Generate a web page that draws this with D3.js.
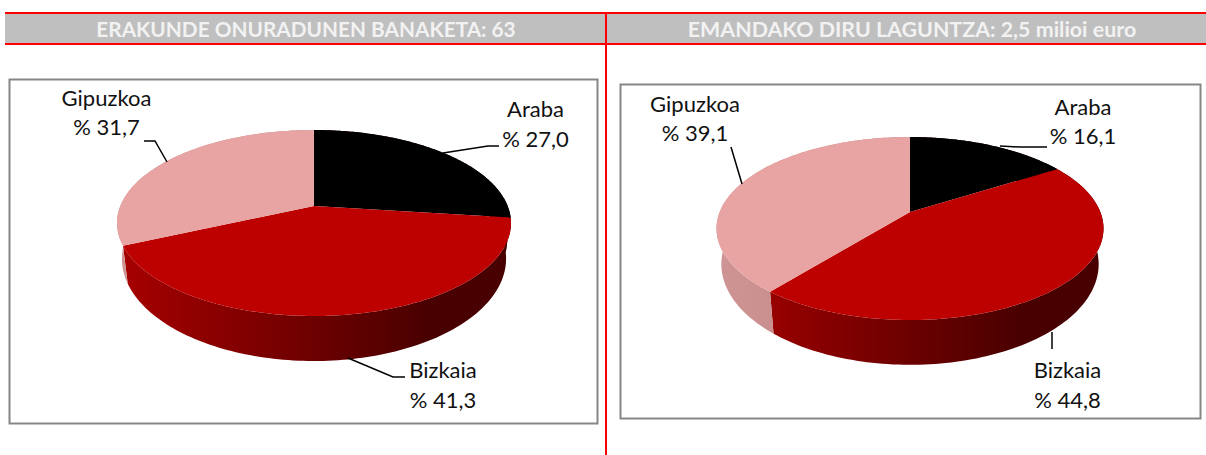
<!DOCTYPE html>
<html><head><meta charset="utf-8">
<script src="https://cdn.jsdelivr.net/npm/d3@7/dist/d3.min.js"></script>
<style>html,body{margin:0;padding:0;background:#fff}svg{display:block}</style>
</head><body><svg id="c" width="1206" height="455"></svg>
<script>
const categories = ["Araba", "Bizkaia", "Gipuzkoa"];
const valuesLeft = [27.0, 41.3, 31.7];
const valuesRight = [16.1, 44.8, 39.1];
const labelsLeft = ["% 27,0", "% 41,3", "% 31,7"];
const labelsRight = ["% 16,1", "% 44,8", "% 39,1"];
const titleLeft = "ERAKUNDE ONURADUNEN BANAKETA: 63";
const titleRight = "EMANDAKO DIRU LAGUNTZA: 2,5 milioi euro";

const topColors = ["#000000", "#bd0000", "#e8a3a3"];
const wallStops = [
  ["#3a0000", "#3a0000"],
  ["#a80000", "#480000"],
  ["#cf9595", "#b07070"]
];

const panels = [
  { values: valuesLeft, labels: labelsLeft, title: titleLeft, titleX: 306, titleSize: 20.8,
    frame: [9.5, 79.5, 588, 344], cx: 314, cy: 206, up: 76, down: 110, rx: 197,
    text: [[535.5, 117, 147], [443, 378, 408], [106.5, 106, 135]],
    leaders: [[[443,153],[488,146],[499,146]], [[348,358],[393,377],[405,377]], [[167,162],[155,141],[144,141]]] },
  { values: valuesRight, labels: labelsRight, title: titleRight, titleX: 912, titleSize: 21.4,
    frame: [620.5, 84.5, 580, 334], cx: 910, cy: 212, up: 75, down: 108, rx: 193.5,
    text: [[1083, 115, 144], [1067.5, 378, 408], [695, 112, 141]],
    leaders: [[[1000,146],[1020,147],[1047,147]], [[1052,332],[1052,349]], [[742,184],[731,147]]] }
];

const svg = d3.select("#c");
const defs = svg.append("defs");

svg.append("rect").attr("x", 5).attr("y", 13).attr("width", 1201).attr("height", 31).attr("fill", "#bfbfbf");
svg.append("line").attr("x1", 5).attr("x2", 1206).attr("y1", 13).attr("y2", 13).attr("stroke", "#f00").attr("stroke-width", 2);
svg.append("line").attr("x1", 5).attr("x2", 1206).attr("y1", 44).attr("y2", 44).attr("stroke", "#f00").attr("stroke-width", 2);
svg.append("line").attr("x1", 606).attr("x2", 606).attr("y1", 13).attr("y2", 455).attr("stroke", "#f00").attr("stroke-width", 2);

panels.forEach((p, pi) => {
  svg.append("text").attr("x", p.titleX).attr("y", 37).attr("text-anchor", "middle")
    .attr("font-family", "Lato, sans-serif").attr("font-weight", 700).attr("font-size", p.titleSize)
    .attr("fill", "#f2f2f2").text(p.title);
  svg.append("rect").attr("x", p.frame[0]).attr("y", p.frame[1]).attr("width", p.frame[2]).attr("height", p.frame[3])
    .attr("fill", "#fff").attr("stroke", "#868686").attr("stroke-width", 2);

  const k = (p.down - p.up) / (p.down + p.up);
  const a = p.up * (1 + k);
  const c = p.rx * Math.sqrt(1 - k * k);
  const proj = t => {
    const x = Math.sin(t), y = Math.cos(t), w = 1 + k * y;
    return [p.cx + c * x / w, p.cy - a * y / w];
  };
  const lower = q => [p.cx + (q[0] - p.cx) * 0.975, p.cy + 34 + (q[1] - p.cy) * 1.1];

  const arcs = d3.pie().sort(null).value(d => d)(p.values);
  const samples = d => d3.range(0, 121).map(i => proj(d.startAngle + (d.endAngle - d.startAngle) * i / 120));
  const line = d3.line();

  arcs.forEach((d, i) => {
    const id = `w${pi}_${i}`;
    const g = defs.append("linearGradient").attr("id", id).attr("gradientUnits", "userSpaceOnUse")
      .attr("x1", p.cx - p.rx).attr("x2", p.cx + p.rx * 0.6).attr("y1", 0).attr("y2", 0);
    g.append("stop").attr("offset", 0).attr("stop-color", wallStops[i][0]);
    g.append("stop").attr("offset", 1).attr("stop-color", wallStops[i][1]);
    const s = samples(d);
    svg.append("path").attr("d", line(s.concat(s.map(lower).reverse())) + "Z").attr("fill", `url(#${id})`);
  });
  arcs.forEach((d, i) => {
    const s = samples(d);
    svg.append("path").attr("d", line([[p.cx, p.cy]].concat(s)) + "Z").attr("fill", topColors[i]);
  });
  p.leaders.forEach(l => svg.append("path").attr("d", line(l)).attr("fill", "none").attr("stroke", "#000").attr("stroke-width", 1.5));
  categories.forEach((name, i) => {
    const t = p.text[i];
    const lab = svg.append("g").attr("font-family", "Lato, sans-serif").attr("font-size", 22).attr("fill", "#111").attr("text-anchor", "middle");
    lab.append("text").attr("x", t[0]).attr("y", t[1]).text(name);
    lab.append("text").attr("x", t[0]).attr("y", t[2]).text(p.labels[i]);
  });
});
</script></body></html>
